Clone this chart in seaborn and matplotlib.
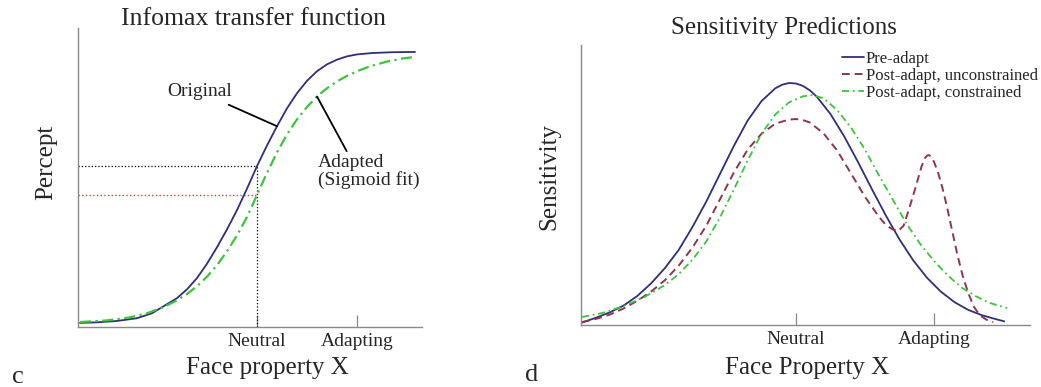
import numpy as np
import pandas as pd
import seaborn as sns
import matplotlib.pyplot as plt

# panel c: transfer functions (x: neutral=0, adapting=1)
orig_x = [-1.77, -1.6, -1.4, -1.2, -1.05, -0.9, -0.8, -0.7, -0.6, -0.5, -0.4, -0.3, -0.2, -0.1,
          0.0, 0.1, 0.2, 0.3, 0.4, 0.5, 0.6, 0.7, 0.8, 0.9, 1.0, 1.15, 1.35, 1.58]
orig_y = [0.015, 0.017, 0.022, 0.032, 0.05, 0.083, 0.105, 0.137, 0.178, 0.23, 0.29, 0.355, 0.425, 0.503,
          0.585, 0.66, 0.73, 0.795, 0.85, 0.895, 0.93, 0.955, 0.972, 0.984, 0.991, 0.996, 0.999, 1.0]
adapt_x = [-1.77, -1.5, -1.27, -1.1, -0.95, -0.82, -0.7, -0.6, -0.5, -0.4, -0.3, -0.2, -0.1,
           0.0, 0.1, 0.2, 0.3, 0.4, 0.5, 0.6, 0.7, 0.8, 0.9, 1.0, 1.15, 1.3, 1.45, 1.58]
adapt_y = [0.018, 0.024, 0.035, 0.05, 0.07, 0.093, 0.12, 0.148, 0.183, 0.225, 0.275, 0.333, 0.4,
           0.48, 0.56, 0.635, 0.70, 0.755, 0.80, 0.838, 0.868, 0.893, 0.913, 0.93, 0.95, 0.965, 0.976, 0.982]
percept_neutral = 0.585
percept_adapted = 0.48

# panel d: sensitivity curves
pre_x = [-1.55, -1.45, -1.35, -1.25, -1.15, -1.05, -0.95, -0.85, -0.75, -0.65, -0.55, -0.45, -0.35,
         -0.25, -0.15, -0.1, -0.05, 0.0, 0.05, 0.1, 0.15, 0.25, 0.35, 0.45, 0.55, 0.65, 0.75, 0.85,
         0.95, 1.05, 1.15, 1.25, 1.35, 1.45, 1.51]
pre_y = [0.01, 0.03, 0.052, 0.08, 0.12, 0.172, 0.235, 0.31, 0.405, 0.51, 0.625, 0.74, 0.845,
         0.925, 0.978, 0.993, 1.0, 0.998, 0.988, 0.97, 0.944, 0.872, 0.779, 0.673, 0.562, 0.454, 0.354,
         0.267, 0.195, 0.138, 0.094, 0.062, 0.04, 0.024, 0.015]
unc_x = [-1.55, -1.45, -1.35, -1.25, -1.15, -1.05, -0.95, -0.85, -0.75, -0.65, -0.55, -0.45, -0.35,
         -0.25, -0.15, -0.05, 0.0, 0.05, 0.1, 0.2, 0.3, 0.4, 0.5, 0.6, 0.65, 0.7, 0.74, 0.78, 0.82,
         0.87, 0.91, 0.935, 0.95, 0.965, 0.98, 1.0, 1.03, 1.06, 1.09, 1.13, 1.17, 1.21, 1.25, 1.29,
         1.33, 1.38, 1.43]
unc_y = [0.012, 0.025, 0.043, 0.068, 0.10, 0.138, 0.185, 0.245, 0.32, 0.41, 0.52, 0.63, 0.725,
         0.79, 0.832, 0.849, 0.851, 0.847, 0.837, 0.792, 0.72, 0.625, 0.53, 0.448, 0.415, 0.395, 0.388,
         0.41, 0.48, 0.575, 0.655, 0.69, 0.70, 0.702, 0.695, 0.675, 0.63, 0.57, 0.50, 0.395, 0.29,
         0.20, 0.13, 0.075, 0.042, 0.022, 0.012]
con_x = [-1.55, -1.4, -1.25, -1.1, -0.95, -0.85, -0.75, -0.65, -0.55, -0.45, -0.35, -0.25, -0.15,
         -0.05, 0.05, 0.12, 0.2, 0.3, 0.4, 0.5, 0.6, 0.7, 0.8, 0.9, 1.0, 1.1, 1.2, 1.3, 1.4, 1.53]
con_y = [0.033, 0.05, 0.078, 0.115, 0.165, 0.21, 0.27, 0.345, 0.445, 0.56, 0.68, 0.79, 0.87,
         0.92, 0.945, 0.95, 0.937, 0.887, 0.815, 0.725, 0.62, 0.52, 0.42, 0.335, 0.265, 0.205, 0.155,
         0.12, 0.092, 0.07]

tick_pos = [0, 1]
tick_labels = ['Neutral', 'Adapting']

sns.set_style("white")
plt.rcParams['font.family'] = ['Liberation Serif', 'DejaVu Serif']

navy = '#2f2f7a'
green = '#3cc43c'
wine = '#8e3550'
grey = '#8a8a8a'

fig = plt.figure(figsize=(10.41, 3.87), dpi=100)
ax1 = fig.add_axes([0.0749, 0.155, 0.3305, 0.7726])
ax2 = fig.add_axes([0.5581, 0.1602, 0.4313, 0.7235])

# ---- panel c
ax1.plot([-1.79, 0], [percept_neutral, percept_neutral], color='black', lw=0.9, ls=':')
ax1.plot([-1.79, 0], [percept_adapted, percept_adapted], color='#e83a3a', lw=1.0, ls=':')
ax1.plot([0, 0], [0, percept_neutral], color='black', lw=0.9, ls=':')
sns.lineplot(x=orig_x, y=orig_y, ax=ax1, color=navy, lw=1.3, sort=False, estimator=None)
sns.lineplot(x=adapt_x, y=adapt_y, ax=ax1, color=green, lw=1.6, sort=False, estimator=None,
             linestyle=(0, (5, 2, 1, 2)))

ax1.annotate('Original', xy=(0.20, 0.73), xytext=(-0.25, 0.855), fontsize=14,
             ha='right', va='center',
             arrowprops=dict(arrowstyle='-', color='black', lw=1.3, shrinkA=2, shrinkB=0))
ax1.annotate('Adapted\n(Sigmoid fit)', xy=(0.60, 0.838), xytext=(0.61, 0.565), fontsize=14,
             ha='left', va='center', linespacing=0.95,
             arrowprops=dict(arrowstyle='-', color='black', lw=1.3, shrinkA=0, shrinkB=0,
                             relpos=(0.3, 1.0)))
ax1.set_xlim(-1.79, 1.65)
ax1.set_ylim(0, 1.087)
ax1.text(0.509, 1.030, 'Infomax transfer function', transform=ax1.transAxes,
         ha='center', va='center', fontsize=18.5)
ax1.set_ylabel('Percept', fontsize=18)
ax1.yaxis.set_label_coords(-0.06, 0.552)
ax1.set_xlabel('Face property X', fontsize=18, va='center')
ax1.xaxis.set_label_coords(0.55, -0.137)

# ---- panel d
sns.lineplot(x=pre_x, y=pre_y, ax=ax2, color=navy, lw=1.3, sort=False, estimator=None,
             label='Pre-adapt')
sns.lineplot(x=unc_x, y=unc_y, ax=ax2, color=wine, lw=1.4, sort=False, estimator=None,
             linestyle=(0, (4, 2.5)), label='Post-adapt, unconstrained')
sns.lineplot(x=con_x, y=con_y, ax=ax2, color=green, lw=1.3, sort=False, estimator=None,
             linestyle=(0, (4, 2, 1, 2)), label='Post-adapt, constrained')
ax2.legend(loc='upper left', bbox_to_anchor=(0.809, 0.868), bbox_transform=fig.transFigure,
           frameon=False, fontsize=12, handlelength=1.3, handletextpad=0.1,
           labelspacing=0.05, borderpad=0, borderaxespad=0)
ax2.set_xlim(-1.558, 1.696)
ax2.set_ylim(0, 1.157)
ax2.text(0.452, 1.061, 'Sensitivity Predictions', transform=ax2.transAxes,
         ha='center', va='center', fontsize=18)
ax2.set_ylabel('Sensitivity', fontsize=18)
ax2.yaxis.set_label_coords(-0.047, 0.529)
ax2.set_xlabel('Face Property X', fontsize=18, va='center')
ax2.xaxis.set_label_coords(0.503, -0.154)

for ax in (ax1, ax2):
    for s in ['top', 'right']:
        ax.spines[s].set_visible(False)
    for s in ['left', 'bottom']:
        ax.spines[s].set_color(grey)
        ax.spines[s].set_linewidth(1.0)
    ax.set_yticks([])
    ax.set_xticks(tick_pos, tick_labels)
    ax.tick_params(axis='x', bottom=True, direction='in', length=9, width=0.9, color=grey,
                   labelsize=14, pad=4)
    ax.yaxis.label.set_visible(True)
    ax.xaxis.label.set_visible(True)

fig.text(18 / 1041, 1 - 377 / 387, 'c', fontsize=19, ha='center', va='center')
fig.text(532 / 1041, 1 - 375 / 387, 'd', fontsize=19, ha='center', va='center')

plt.savefig('out.png', dpi=100)
